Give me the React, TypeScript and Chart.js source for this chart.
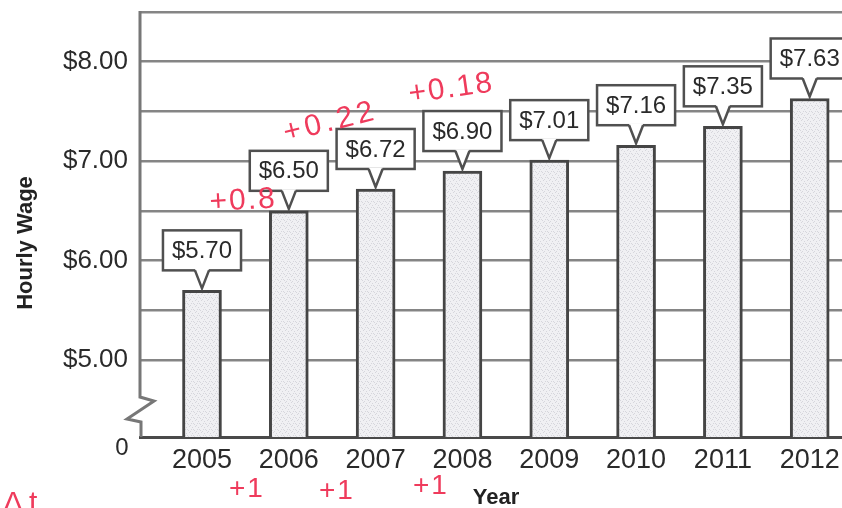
import { useEffect, useRef } from "react";
import { Chart, registerables } from "chart.js";

Chart.register(...registerables);

// Hourly wage by year
const years = [2005, 2006, 2007, 2008, 2009, 2010, 2011, 2012];
const wages = [5.7, 6.5, 6.72, 6.9, 7.01, 7.16, 7.35, 7.63];

// y axis: gridlines every $0.50, labelled on whole dollars; the floor sits below a scale break and reads "0"
const yGridValues = [5, 5.5, 6, 6.5, 7, 7.5, 8, 8.5];
const yFloor = 4.225;
const yTop = 8.5;
const xMin = 2004.286;
const xMax = 2013.04;

// red pen notes written on the printout
const penNotes = ["+0.8", "+0.22", "+0.18", "+1", "+1", "+1", "Δt"];

const FONT = "'Liberation Sans', Arial, sans-serif";
const INK = "#2a2a2a";
const PEN = "#ef3b5c";

const money = (v: number) => "$" + v.toFixed(2);

function makeStipple(ctx: CanvasRenderingContext2D): CanvasPattern | string {
  const c = document.createElement("canvas");
  c.width = 6;
  c.height = 6;
  const g = c.getContext("2d");
  if (!g) return "#ededf0";
  g.fillStyle = "#f0f0f3";
  g.fillRect(0, 0, 6, 6);
  g.fillStyle = "#d6d6dc";
  const specks = [[0, 1], [3, 0], [5, 3], [2, 4], [4, 5], [1, 3]];
  specks.forEach(([x, y]) => g.fillRect(x, y, 1, 1));
  return ctx.createPattern(c, "repeat") || "#ededf0";
}

const decorations = {
  id: "decorations",
  beforeDatasetsDraw(chart: any) {
    const { ctx, chartArea } = chart;
    const L = chartArea.left;
    const B = chartArea.bottom;
    // left axis with a zigzag scale break near the floor
    ctx.save();
    ctx.strokeStyle = "#777777";
    ctx.lineWidth = 3;
    ctx.lineJoin = "miter";
    ctx.beginPath();
    ctx.moveTo(L, chartArea.top - 1);
    ctx.lineTo(L, B - 40);
    ctx.lineTo(L + 14, B - 36);
    ctx.lineTo(L - 13, B - 18);
    ctx.lineTo(L + 1, B - 15);
    ctx.lineTo(L + 1, B);
    ctx.stroke();
    ctx.restore();
  },
  afterDatasetsDraw(chart: any) {
    const { ctx } = chart;
    const meta = chart.getDatasetMeta(0);
    ctx.save();
    ctx.font = `24px ${FONT}`;
    meta.data.forEach((bar: any, i: number) => {
      const { x, y } = bar.getProps(["x", "y"], true);
      const text = money(wages[i]);
      const w = ctx.measureText(text).width + 18;
      const h = 40;
      const gap = 20;
      const bx = x - w / 2;
      const by = y - gap - h;
      ctx.fillStyle = "#ffffff";
      ctx.fillRect(bx, by, w, h);
      ctx.strokeStyle = "#505050";
      ctx.lineWidth = 2.5;
      ctx.strokeRect(bx, by, w, h);
      // pointer down to the bar top
      ctx.beginPath();
      ctx.moveTo(x - 7, by + h - 1.5);
      ctx.lineTo(x, y - 2);
      ctx.lineTo(x + 7, by + h - 1.5);
      ctx.closePath();
      ctx.fillStyle = "#ffffff";
      ctx.fill();
      ctx.beginPath();
      ctx.moveTo(x - 7, by + h);
      ctx.lineTo(x, y - 2);
      ctx.lineTo(x + 7, by + h);
      ctx.stroke();
      ctx.fillStyle = INK;
      ctx.textAlign = "center";
      ctx.textBaseline = "middle";
      ctx.fillText(text, x, by + h / 2 + 1);
    });
    ctx.restore();
  },
  afterDraw(chart: any) {
    const { ctx, chartArea } = chart;
    ctx.save();
    // floor label below the break
    ctx.fillStyle = INK;
    ctx.font = `24px ${FONT}`;
    ctx.textAlign = "center";
    ctx.textBaseline = "middle";
    ctx.fillText("0", chartArea.left - 18, chartArea.bottom + 11);

    // axis titles
    ctx.font = `bold 22px ${FONT}`;
    ctx.fillStyle = "#222222";
    ctx.fillText("Year", 496, 498);
    ctx.save();
    ctx.translate(26, 243);
    ctx.rotate(-Math.PI / 2);
    ctx.fillText("Hourly Wage", 0, 0);
    ctx.restore();

    // pen notes
    const spots = [
      { x: 210, y: 211, r: -3, s: 30, sp: 2 },
      { x: 286, y: 142, r: -14, s: 30, sp: 4 },
      { x: 410, y: 103, r: -8, s: 30, sp: 2 },
      { x: 229, y: 497, r: 0, s: 28, sp: 2 },
      { x: 319, y: 499, r: 0, s: 28, sp: 2 },
      { x: 413, y: 494, r: 0, s: 28, sp: 2 },
      { x: 3, y: 512, r: 0, s: 30, sp: 6 },
    ];
    ctx.fillStyle = PEN;
    ctx.textAlign = "left";
    ctx.textBaseline = "alphabetic";
    penNotes.forEach((note, i) => {
      const p = spots[i];
      ctx.save();
      ctx.translate(p.x, p.y);
      ctx.rotate((p.r * Math.PI) / 180);
      ctx.font = `${p.s}px ${FONT}`;
      (ctx as any).letterSpacing = `${p.sp}px`;
      ctx.fillText(note, 0, 0);
      ctx.restore();
    });
    ctx.restore();
  },
};

export default function App() {
  const canvasRef = useRef<HTMLCanvasElement | null>(null);

  useEffect(() => {
    const canvas = canvasRef.current;
    if (!canvas) return;
    const ctx = canvas.getContext("2d");
    if (!ctx) return;
    const stipple = makeStipple(ctx);

    const chart = new Chart(canvas, {
      type: "bar",
      data: {
        datasets: [
          {
            label: "Hourly Wage",
            data: years.map((yr, i) => ({ x: yr, y: wages[i] })),
            backgroundColor: stipple as any,
            borderColor: "#454545",
            borderWidth: 3,
            borderSkipped: "bottom",
            barThickness: 39,
          },
        ],
      },
      options: {
        responsive: false,
        animation: false,
        devicePixelRatio: 1,
        layout: { padding: { left: 0, top: 12, right: 0, bottom: 0 } },
        plugins: {
          legend: { display: false },
          tooltip: { enabled: false },
          title: { display: false },
        },
        scales: {
          x: {
            type: "linear",
            offset: false,
            min: xMin,
            max: xMax,
            afterBuildTicks: (scale: any) => {
              scale.ticks = years.map((v) => ({ value: v }));
            },
            afterFit: (scale: any) => {
              scale.height = 71;
              scale.paddingLeft = 0;
              scale.paddingRight = 0;
            },
            grid: { display: false, drawTicks: false, offset: false },
            border: { display: true, color: "#4a4a4a", width: 3 },
            ticks: {
              autoSkip: false,
              maxRotation: 0,
              padding: 7,
              color: INK,
              font: { family: FONT, size: 27 },
              callback: (v: any) => String(v),
            },
          },
          y: {
            type: "linear",
            min: yFloor,
            max: yTop,
            afterBuildTicks: (scale: any) => {
              scale.ticks = [yFloor, ...yGridValues].map((v) => ({ value: v }));
            },
            afterFit: (scale: any) => {
              scale.width = 140;
              scale.paddingTop = 0;
              scale.paddingBottom = 0;
            },
            grid: {
              drawTicks: false,
              lineWidth: 2.5,
              color: (c: any) =>
                c.tick && c.tick.value === yFloor ? "rgba(0,0,0,0)" : "#858585",
            },
            border: { display: false },
            ticks: {
              autoSkip: false,
              padding: 12,
              color: INK,
              font: { family: FONT, size: 26 },
              callback: (v: any) =>
                Number.isInteger(v) && v !== yFloor ? money(v) : "",
            },
          },
        },
      },
      plugins: [decorations],
    });

    return () => chart.destroy();
  }, []);

  return (
    <div
      style={{
        position: "absolute",
        left: 0,
        top: 0,
        width: 842,
        height: 508,
        overflow: "hidden",
        background: "#ffffff",
      }}
    >
      <canvas ref={canvasRef} width={900} height={508} style={{ display: "block" }} />
    </div>
  );
}
